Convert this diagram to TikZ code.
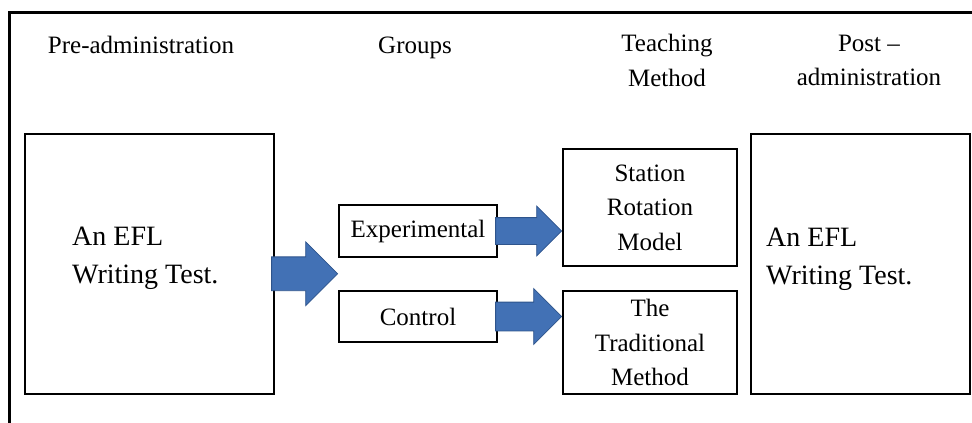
\documentclass[tikz,border=0pt]{standalone}
\usepackage{fontspec}
\setmainfont{Liberation Serif}
\usepackage{tikz}
\usetikzlibrary{shapes.arrows,calc}

\definecolor{arrowblue}{RGB}{66,113,181}
\definecolor{arrowedge}{RGB}{46,84,140}

\begin{document}
\begin{tikzpicture}[x=1pt,y=-1pt,
	box/.style={draw,line width=1.6pt,inner sep=0pt},
	txt/.style={font=\fontsize{25}{34.5}\selectfont,inner sep=0pt},
	bigtxt/.style={font=\fontsize{28}{38}\selectfont,inner sep=0pt,align=left},
	bigarrow/.style={single arrow,draw=arrowedge,fill=arrowblue,line width=0.8pt,
		inner xsep=0pt,minimum width=1pt,single arrow tip angle=90}]
	\useasboundingbox (0,0) rectangle (972,423);
	\draw [line width=3pt] (9.5,423) -- (9.5,12) -- (972,12);
	
	% headings
	\node (h1) [txt,anchor=base] at (141,53) {Pre-administration};
	\node (h2) [txt,anchor=base] at (415,53) {Groups};
	\node (h3) [txt,align=center] at (667,60.5) {Teaching\\Method};
	\node (h4) [txt,align=center] at (869,60.5) {Post --\\administration};
	
	% boxes
	\node (pre) [box,minimum width=249pt,minimum height=260pt] at (149.5,264) {};
	\node (exp) [box,txt,minimum width=158pt,minimum height=52pt] at (418,231) {Experimental};
	\node (ctrl) [box,txt,minimum width=158pt,minimum height=51pt] at (418,316.5) {Control};
	\node (srm) [box,txt,align=center,minimum width=174pt,minimum height=117pt] at (650,207.5) {Station\\Rotation\\Model};
	\node (trad) [box,txt,align=center,minimum width=174pt,minimum height=103pt] at (650,342.5) {The\\Traditional\\Method};
	\node (post) [box,minimum width=219pt,minimum height=260pt] at (860.5,264) {};
	
	\node (pretext) [bigtxt,anchor=west] at (72,258) {An EFL\\Writing Test.};
	\node (posttext) [bigtxt,anchor=west] at (766,259) {An EFL\\Writing Test.};
	
	% block arrows
	\node (a1) [bigarrow,inner ysep=16.5pt,single arrow head extend=15pt,minimum height=66pt,anchor=tip]
		at ($(exp.west)!0.5!(ctrl.west)$) {};
	\node (a2) [bigarrow,inner ysep=13pt,single arrow head extend=11.5pt,minimum height=66pt,anchor=tip]
		at (srm.west |- exp.west) {};
	\node (a3) [bigarrow,inner ysep=14pt,single arrow head extend=13.5pt,minimum height=66pt,anchor=tip]
		at (trad.west |- ctrl.west) {};
\end{tikzpicture}
\end{document}
